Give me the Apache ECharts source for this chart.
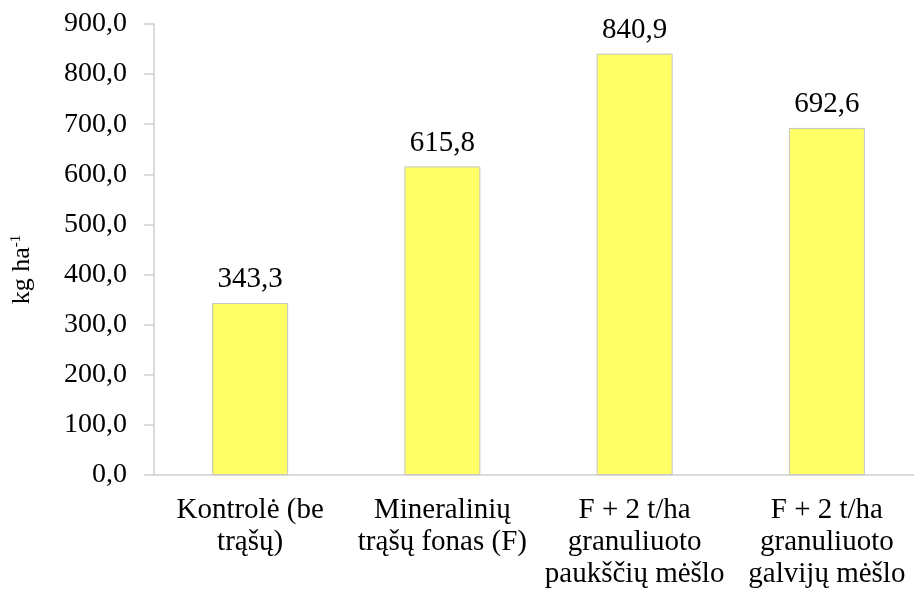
<!DOCTYPE html>
<html>
<head>
<meta charset="utf-8">
<script src="https://cdn.jsdelivr.net/npm/echarts@6/dist/echarts.min.js"></script>
<style>html,body{margin:0;padding:0;background:#fff;overflow:hidden}#c{width:930px;height:595px}</style>
</head>
<body>
<div id="c"></div>
<script>
const categories = ['Kontrolė (be\ntrąšų)', 'Mineralinių\ntrąšų fonas (F)', 'F + 2 t/ha\ngranuliuoto\npaukščių mėšlo', 'F + 2 t/ha\ngranuliuoto\ngalvijų mėšlo'];
const values = [343.3, 615.8, 840.9, 692.6];
const yMin = 0, yMax = 900, yStep = 100;

const FONT = "'Liberation Serif', 'Times New Roman', serif";
const fmt = v => Number(v).toFixed(1).replace('.', ',');
const chart = echarts.init(document.getElementById('c'));
chart.setOption({
  animation: false,
  backgroundColor: '#ffffff',
  grid: { left: 154, width: 769, top: 24, height: 451 },
  xAxis: {
    type: 'category',
    data: categories,
    axisLine: { lineStyle: { color: '#cfcfcf', width: 1.5 } },
    axisTick: { show: false },
    axisLabel: { color: '#000', fontFamily: FONT, fontSize: 29, lineHeight: 32, margin: 19, interval: 0 }
  },
  yAxis: {
    type: 'value',
    min: yMin, max: yMax, interval: yStep,
    name: '{a|kg ha}{s|-1}',
    nameLocation: 'middle',
    nameGap: 119,
    nameRotate: 90,
    nameTextStyle: {
      padding: [0, 40, 0, 0],
      rich: {
        a: { fontFamily: FONT, fontSize: 26, color: '#000' },
        s: { fontFamily: FONT, fontSize: 15, color: '#000', verticalAlign: 'top', padding: [0, 0, 10, 0] }
      }
    },
    axisLine: { show: true, lineStyle: { color: '#cfcfcf', width: 1.5 } },
    axisTick: { show: true, length: 10, lineStyle: { color: '#cfcfcf', width: 1.5 } },
    splitLine: { show: false },
    axisLabel: { color: '#000', fontFamily: FONT, fontSize: 28, margin: 27, formatter: v => fmt(v) }
  },
  series: [{
    type: 'bar',
    data: values,
    barWidth: 76,
    itemStyle: { color: '#ffff66', borderColor: '#c4c4c4', borderWidth: 1 },
    label: { show: true, position: 'top', distance: 9, color: '#000', fontFamily: FONT, fontSize: 29, formatter: p => fmt(p.value) }
  }]
});
</script>
</body>
</html>
